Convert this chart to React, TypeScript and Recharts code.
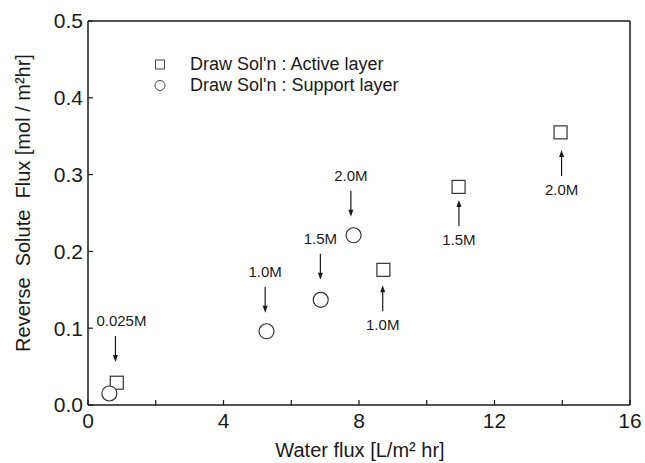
import React from 'react';
import { ScatterChart, Scatter, XAxis, YAxis, ReferenceLine, Label } from 'recharts';

// water flux (x) vs reverse solute flux (y)
const activeFlux = [0.85, 8.72, 10.94, 13.95];
const activeSolute = [0.029, 0.176, 0.284, 0.355];
const supportFlux = [0.63, 5.27, 6.87, 7.84];
const supportSolute = [0.015, 0.096, 0.137, 0.221];

// concentration notes: arrow tip location + direction
const noteLabels = ['0.025M', '1.0M', '1.5M', '2.0M', '1.0M', '1.5M', '2.0M'];
const noteFlux = [0.81, 5.23, 6.86, 7.76, 8.7, 10.95, 13.98];
const noteSolute = [0.056, 0.12, 0.163, 0.245, 0.156, 0.267, 0.332];
const noteDir = ['down', 'down', 'down', 'down', 'up', 'up', 'up'];

const xTicks = [0, 2, 4, 6, 8, 10, 12, 14, 16];
const yTicks = [0, 0.1, 0.2, 0.3, 0.4, 0.5];

const seriesNames = ["Draw Sol'n : Active layer", "Draw Sol'n : Support layer"];

const activeData = activeFlux.map((x, i) => ({ x, y: activeSolute[i] }));
const supportData = supportFlux.map((x, i) => ({ x, y: supportSolute[i] }));
const noteData = noteFlux.map((x, i) => ({ x, y: noteSolute[i], label: noteLabels[i], dir: noteDir[i] }));

const FONT = '"Liberation Sans", Arial, sans-serif';
const INK = '#1a1a1a';

const SquareMark = (p: any) => (
  <rect x={p.cx - 6.5} y={p.cy - 6.5} width={13} height={13} fill="#fff" stroke="#333" strokeWidth={1.2} />
);

const CircleMark = (p: any) => (
  <circle cx={p.cx} cy={p.cy} r={7.5} fill="#fff" stroke="#333" strokeWidth={1.2} />
);

const NoteMark = (p: any) => {
  const { cx, cy, payload } = p;
  const down = payload.dir === 'down';
  const s = down ? -1 : 1;
  const tail = cy + s * 26;
  const head = `M${cx - 2.5},${cy + s * 7} L${cx + 2.5},${cy + s * 7} L${cx},${cy} Z`;
  const ty = down ? tail - 10 : tail + 19;
  // the leftmost note sits a little right of its arrow
  const tx = payload.label.length > 4 ? cx + 6 : cx;
  return (
    <g>
      <line x1={cx} y1={tail} x2={cx} y2={cy + s * 6} stroke={INK} strokeWidth={1.2} />
      <path d={head} fill={INK} />
      <text x={tx} y={ty} textAnchor="middle" fontSize={15} fill={INK}>
        {payload.label}
      </text>
    </g>
  );
};

const LegendBox = () => (
  <div style={{ position: 'absolute', left: 150, top: 54, fontFamily: FONT, fontSize: 18, color: INK }}>
    {seriesNames.map((name, i) => (
      <div key={name} style={{ display: 'flex', alignItems: 'center', height: 21 }}>
        <svg width={20} height={21}>
          {i === 0 ? (
            <rect x={5.5} y={6} width={9} height={9} fill="#fff" stroke="#444" strokeWidth={1} />
          ) : (
            <circle cx={10} cy={10.5} r={5} fill="#fff" stroke="#444" strokeWidth={1} />
          )}
        </svg>
        <span style={{ marginLeft: 20, whiteSpace: 'pre' }}>{name}</span>
      </div>
    ))}
  </div>
);

export default function App() {
  return (
    <div style={{ position: 'absolute', left: 0, top: 0, width: 645, height: 463, fontFamily: FONT, background: '#fff' }}>
      <ScatterChart width={645} height={463} margin={{ top: 21, right: 15, bottom: 0, left: 0 }}>
        <XAxis
          type="number"
          dataKey="x"
          domain={[0, 16]}
          ticks={xTicks}
          interval={0}
          tickFormatter={(v: number) => (v % 4 === 0 ? String(v) : '')}
          tickSize={-5}
          tickMargin={13}
          height={58}
          fontSize={21}
          axisLine={{ stroke: INK, strokeWidth: 1.5 }}
          tickLine={{ stroke: INK, strokeWidth: 1.2 }}
          tick={{ fontSize: 21, fill: INK }}
        >
          <Label
            content={() => (
              <text x={360} y={457} textAnchor="middle" fontSize={20} fill={INK}>
                Water flux [L/m² hr]
              </text>
            )}
          />
        </XAxis>
        <YAxis
          type="number"
          dataKey="y"
          domain={[0, 0.5]}
          ticks={yTicks}
          interval={0}
          tickFormatter={(v: number) => v.toFixed(1)}
          tickSize={-5}
          tickMargin={10}
          width={88}
          fontSize={21}
          axisLine={{ stroke: INK, strokeWidth: 1.5 }}
          tickLine={{ stroke: INK, strokeWidth: 1.2 }}
          tick={{ fontSize: 21, fill: INK }}
        >
          <Label
            content={() => (
              <text
                x={23}
                y={203}
                transform="rotate(-90, 23, 203)"
                textAnchor="middle"
                dominantBaseline="central"
                fontSize={20}
                fill={INK}
                style={{ whiteSpace: 'pre' }}
              >
                {'Reverse  Solute  Flux [mol / m²hr]'}
              </text>
            )}
          />
        </YAxis>
        <ReferenceLine y={0.5} stroke={INK} strokeWidth={1.5} />
        <ReferenceLine x={16} stroke={INK} strokeWidth={1.5} />
        <Scatter name={seriesNames[0]} data={activeData} shape={SquareMark} isAnimationActive={false} />
        <Scatter name={seriesNames[1]} data={supportData} shape={CircleMark} isAnimationActive={false} />
        <Scatter name="notes" data={noteData} shape={NoteMark} legendType="none" isAnimationActive={false} />
      </ScatterChart>
      <LegendBox />
    </div>
  );
}
